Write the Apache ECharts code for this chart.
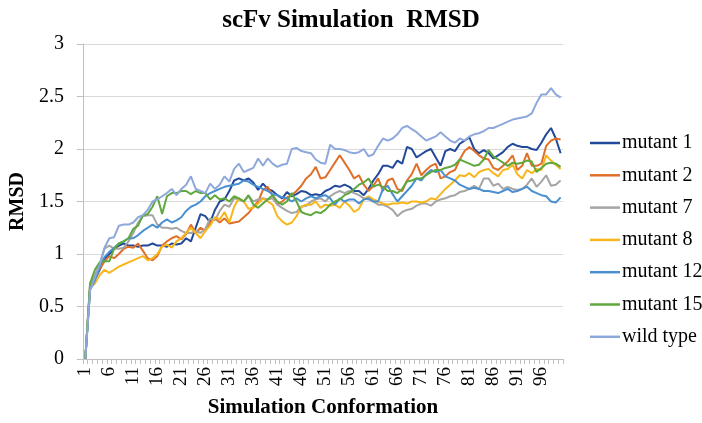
<!DOCTYPE html>
<html>
<head>
<meta charset="utf-8">
<script src="https://cdn.jsdelivr.net/npm/echarts@6/dist/echarts.min.js"></script>
<style>
html,body{margin:0;padding:0;background:#fff;}
#chart{width:702px;height:423px;}
</style>
</head>
<body>
<div id="chart"></div>
<script>
var categories = [];
for (var i = 1; i <= 100; i++) categories.push(String(i));

var seriesNames = ["mutant 1", "mutant 2", "mutant 7", "mutant 8", "mutant 12", "mutant 15", "wild type"];
var yTicks = [0, 0.5, 1, 1.5, 2, 2.5, 3];

var mutant1 = [0,0.68,0.76,0.85,0.95,1.0,1.05,1.08,1.1,1.08,
1.08,1.07,1.08,1.08,1.1,1.08,1.08,1.07,1.1,1.09,
1.1,1.15,1.12,1.25,1.38,1.36,1.3,1.42,1.5,1.52,
1.6,1.7,1.72,1.7,1.72,1.68,1.61,1.67,1.62,1.6,
1.56,1.53,1.59,1.55,1.57,1.6,1.59,1.56,1.57,1.56,
1.6,1.62,1.65,1.64,1.66,1.64,1.6,1.6,1.56,1.62,
1.7,1.76,1.84,1.84,1.82,1.89,1.86,2.02,2.0,1.92,
1.95,1.98,2.0,1.92,1.84,1.98,2.0,1.98,2.05,2.08,
2.11,2.0,1.96,1.99,1.96,1.91,1.94,1.97,2.02,2.05,
2.03,2.02,2.02,2.0,1.99,2.06,2.14,2.2,2.1,1.96];

var mutant2 = [0,0.7,0.78,0.86,0.93,0.98,0.96,1.0,1.05,1.07,
1.06,1.1,1.03,0.96,0.94,0.98,1.08,1.12,1.15,1.17,
1.14,1.19,1.28,1.2,1.25,1.22,1.3,1.34,1.3,1.34,
1.29,1.3,1.31,1.35,1.39,1.45,1.5,1.61,1.64,1.56,
1.47,1.5,1.54,1.56,1.6,1.65,1.72,1.76,1.83,1.72,
1.73,1.8,1.87,1.94,1.87,1.8,1.72,1.75,1.66,1.6,
1.65,1.72,1.6,1.7,1.72,1.62,1.6,1.7,1.76,1.86,
1.75,1.8,1.84,1.86,1.72,1.74,1.78,1.8,1.9,1.98,
2.02,1.98,1.94,1.91,1.9,1.82,1.8,1.84,1.88,1.94,
1.8,1.84,1.96,1.84,1.84,1.86,2.03,2.08,2.1,2.09];

var mutant7 = [0,0.72,0.8,0.9,1.05,1.08,1.05,1.05,1.06,1.12,
1.2,1.3,1.36,1.37,1.37,1.28,1.25,1.25,1.24,1.25,
1.22,1.2,1.2,1.22,1.2,1.24,1.34,1.32,1.41,1.47,
1.45,1.53,1.52,1.5,1.55,1.5,1.52,1.53,1.52,1.53,
1.47,1.44,1.41,1.39,1.4,1.45,1.46,1.5,1.52,1.53,
1.5,1.55,1.58,1.6,1.58,1.6,1.58,1.56,1.53,1.52,
1.5,1.47,1.47,1.45,1.42,1.36,1.4,1.42,1.43,1.46,
1.48,1.48,1.46,1.5,1.52,1.53,1.55,1.56,1.59,1.6,
1.62,1.65,1.62,1.72,1.72,1.65,1.67,1.62,1.64,1.62,
1.61,1.62,1.66,1.72,1.64,1.69,1.75,1.65,1.66,1.7];

var mutant8 = [0,0.68,0.72,0.8,0.85,0.82,0.85,0.88,0.9,0.92,
0.94,0.96,0.98,0.94,0.96,1.0,1.07,1.09,1.06,1.12,
1.15,1.2,1.25,1.2,1.15,1.22,1.27,1.35,1.33,1.4,
1.3,1.45,1.53,1.5,1.43,1.44,1.48,1.53,1.5,1.47,
1.36,1.31,1.28,1.3,1.36,1.45,1.47,1.47,1.5,1.44,
1.47,1.46,1.47,1.44,1.5,1.46,1.4,1.43,1.52,1.55,
1.52,1.5,1.48,1.47,1.48,1.48,1.49,1.48,1.5,1.5,
1.49,1.5,1.53,1.52,1.57,1.62,1.66,1.7,1.75,1.74,
1.77,1.73,1.78,1.8,1.81,1.77,1.74,1.8,1.81,1.85,
1.76,1.72,1.8,1.77,1.81,1.8,1.94,1.89,1.85,1.81];

var mutant12 = [0,0.66,0.75,0.88,0.97,1.02,1.06,1.1,1.12,1.15,
1.15,1.18,1.22,1.25,1.28,1.25,1.3,1.33,1.3,1.32,
1.35,1.41,1.45,1.47,1.5,1.55,1.58,1.6,1.62,1.64,
1.65,1.66,1.67,1.7,1.69,1.66,1.64,1.62,1.6,1.57,
1.56,1.54,1.53,1.5,1.53,1.5,1.53,1.55,1.53,1.55,
1.56,1.53,1.47,1.53,1.5,1.52,1.52,1.48,1.52,1.53,
1.5,1.5,1.62,1.65,1.57,1.5,1.55,1.6,1.65,1.72,
1.7,1.76,1.8,1.78,1.8,1.74,1.72,1.7,1.66,1.64,
1.62,1.63,1.62,1.6,1.6,1.59,1.58,1.6,1.62,1.59,
1.6,1.62,1.64,1.6,1.58,1.56,1.55,1.5,1.49,1.54];

var mutant15 = [0,0.72,0.85,0.92,0.93,0.93,1.05,1.1,1.12,1.15,
1.24,1.27,1.37,1.38,1.45,1.55,1.38,1.55,1.58,1.58,
1.6,1.6,1.57,1.6,1.58,1.58,1.52,1.56,1.52,1.53,
1.5,1.55,1.53,1.5,1.56,1.47,1.44,1.48,1.52,1.56,
1.5,1.47,1.5,1.58,1.5,1.4,1.38,1.37,1.4,1.39,
1.42,1.47,1.5,1.52,1.56,1.58,1.62,1.66,1.68,1.72,
1.64,1.66,1.64,1.6,1.6,1.58,1.62,1.69,1.7,1.72,
1.72,1.75,1.78,1.8,1.8,1.82,1.83,1.85,1.9,1.88,
1.86,1.84,1.85,1.9,1.99,1.93,1.9,1.87,1.84,1.87,
1.86,1.87,1.89,1.88,1.78,1.82,1.86,1.87,1.86,1.83];

var wildType = [0,0.66,0.78,0.9,1.06,1.15,1.16,1.27,1.28,1.28,
1.3,1.35,1.37,1.42,1.5,1.52,1.55,1.58,1.62,1.56,
1.62,1.66,1.74,1.62,1.6,1.58,1.67,1.62,1.66,1.74,
1.69,1.81,1.86,1.78,1.8,1.82,1.91,1.84,1.91,1.86,
1.83,1.85,1.86,2.0,2.01,1.98,1.97,1.96,1.9,1.87,
1.86,2.04,2.0,2.0,1.99,1.97,1.96,1.97,2.0,1.93,
1.95,2.03,2.1,2.08,2.1,2.14,2.2,2.22,2.19,2.16,
2.12,2.08,2.1,2.12,2.16,2.12,2.08,2.06,2.1,2.08,
2.12,2.14,2.15,2.17,2.2,2.2,2.22,2.24,2.26,2.28,
2.29,2.3,2.31,2.34,2.44,2.52,2.52,2.58,2.52,2.49];

var seriesData = [mutant1, mutant2, mutant7, mutant8, mutant12, mutant15, wildType];
var colors = ["#22499A", "#E06F2A", "#A5A5A5", "#F7B71C", "#4A90D0", "#5FA83E", "#8EA8DC"];

var serif = "'Liberation Serif', 'Times New Roman', serif";

var chart = echarts.init(document.getElementById('chart'), null, {renderer: 'canvas'});
var option = {
  animation: false,
  backgroundColor: '#ffffff',
  color: colors,
  title: {
    text: 'scFv Simulation  RMSD',
    left: 'center',
    top: 3,
    textStyle: {fontFamily: serif, fontWeight: 'bold', fontSize: 25, color: '#000'}
  },
  legend: {
    orient: 'vertical',
    left: 585,
    top: 128,
    icon: 'rect',
    itemWidth: 30,
    itemHeight: 2.5,
    itemGap: 12.3,
    data: seriesNames,
    textStyle: {fontFamily: serif, fontSize: 20, color: '#000', lineHeight: 20, padding: [0,0,0,-3]}
  },
  grid: {left: 70, right: 139, top: 44, bottom: 59.5, containLabel: false},
  xAxis: {
    type: 'category',
    data: categories,
    boundaryGap: true,
    name: 'Simulation Conformation',
    nameLocation: 'middle',
    nameGap: 38,
    nameTextStyle: {fontFamily: serif, fontWeight: 'bold', fontSize: 21, color: '#000'},
    axisLine: {lineStyle: {color: '#BFBFBF', width: 1}},
    axisTick: {show: true, interval: 0, length: 5, lineStyle: {color: '#BFBFBF'}},
    axisLabel: {interval: 4, rotate: 90, margin: 8, fontFamily: serif, fontSize: 19, color: '#000'},
    splitLine: {show: false}
  },
  yAxis: {
    type: 'value',
    min: 0,
    max: 3,
    interval: 0.5,
    name: 'RMSD',
    nameLocation: 'middle',
    nameGap: 47,
    nameTextStyle: {fontFamily: serif, fontWeight: 'bold', fontSize: 20, color: '#000'},
    axisLine: {show: true, lineStyle: {color: '#BFBFBF', width: 1}},
    axisTick: {show: true, length: 6, lineStyle: {color: '#BFBFBF'}},
    axisLabel: {margin: 19, fontFamily: serif, fontSize: 20, color: '#000',
      formatter: function (v) { return yTicks.indexOf(v) >= 0 ? String(v) : ''; }},
    splitLine: {lineStyle: {color: '#D9D9D9', width: 1}}
  },
  series: seriesNames.map(function (n, k) {
    return {
      name: n,
      type: 'line',
      data: seriesData[k],
      symbol: 'none',
      smooth: false,
      lineStyle: {width: 2, color: colors[k]},
      itemStyle: {color: colors[k]}
    };
  })
};
chart.setOption(option);
</script>
</body>
</html>
